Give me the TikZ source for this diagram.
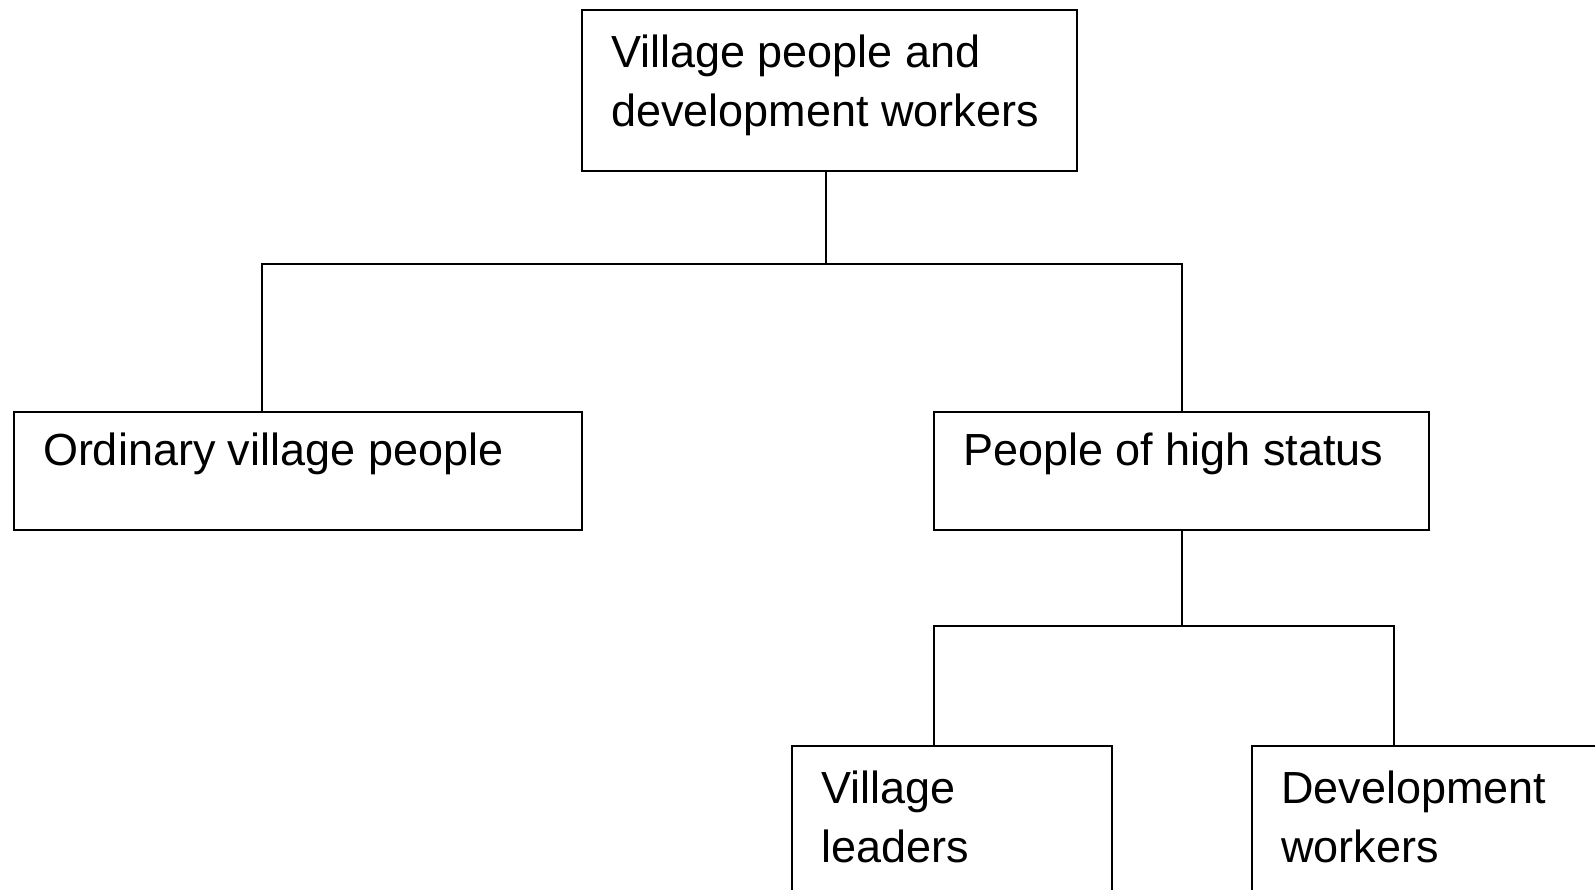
\documentclass[tikz,border=0pt]{standalone}
\usepackage{fontspec}
\setmainfont{Liberation Sans}

\tikzset{
  box/.style={draw, line width=2pt, inner sep=0pt, anchor=north west,
    font=\fontsize{45}{59}\selectfont},
  link/.style={draw, line width=2pt},
}
% box of given width and height, text set at its top left
\newcommand{\boxtext}[4][23pt]{\parbox[c][#3][t]{#2}{\vspace*{#1}\raggedright\leftskip=29pt #4}}

\begin{document}
\begin{tikzpicture}[x=1pt,y=1pt]
    \useasboundingbox (0,0) rectangle (1595,-889);
    \clip (0,0) rectangle (1595,-889);

    % Boxes
    \node[box] (top) at (581,-9) {\boxtext[25pt]{495pt}{161pt}{Village people and\\development workers}};
    \node[box] (ordinary) at (13,-411) {\boxtext[21pt]{568pt}{118pt}{Ordinary village people}};
    \node[box] (high) at (933,-411) {\boxtext[21pt]{495pt}{118pt}{People of high status}};
    \node[box] (leaders) at (791,-745) {\boxtext[25pt]{320pt}{200pt}{Village\\leaders}};
    \node[box] (devworkers) at (1251,-745) {\boxtext[25pt]{400pt}{200pt}{Development\\workers}};

    % Branch points
    \coordinate (split1) at (826,-264);
    \coordinate (split2) at (high.south |- 0,-626);

    % Connectors
    \draw[link] (top.south -| split1) -- (split1);
    \draw[link] ([xshift=-36pt]ordinary.north) |- (split1) -| (high.north);
    \draw[link] (high.south) -- (split2);
    \draw[link] ([xshift=-18pt]leaders.north) |- (split2) -| ([xshift=-58pt]devworkers.north);
\end{tikzpicture}
\end{document}
